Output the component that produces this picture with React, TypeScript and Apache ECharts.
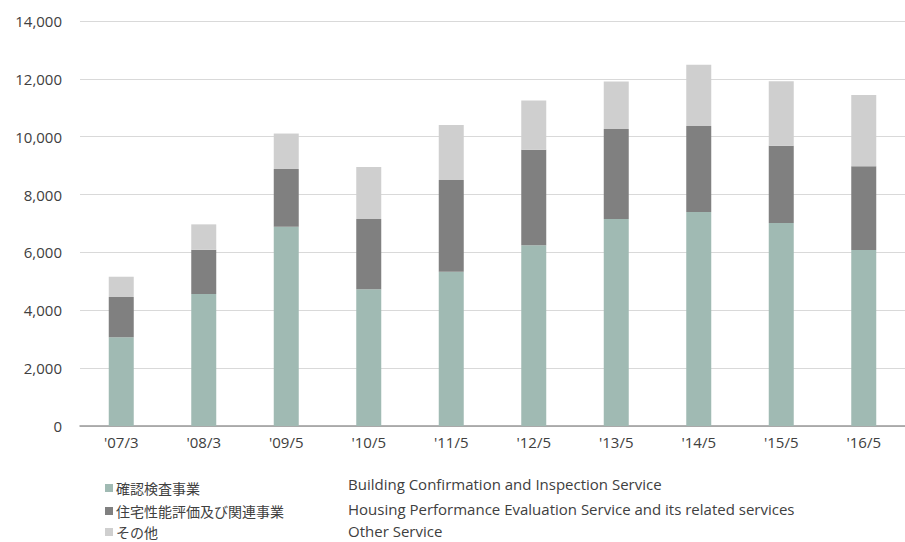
import React, { useEffect, useRef } from "react";
import * as echarts from "echarts";

const categories = ["'07/3", "'08/3", "'09/5", "'10/5", "'11/5", "'12/5", "'13/5", "'14/5", "'15/5", "'16/5"];
const building = [3070, 4560, 6890, 4725, 5335, 6245, 7155, 7395, 7015, 6085];
const housing = [1390, 1535, 1995, 2430, 3170, 3305, 3110, 2975, 2675, 2890];
const other = [700, 875, 1225, 1800, 1900, 1705, 1640, 2120, 2225, 2465];
const seriesNamesJa = ["確認検査事業", "住宅性能評価及び関連事業", "その他"];
const seriesNamesEn = [
  "Building Confirmation and Inspection Service",
  "Housing Performance Evaluation Service and its related services",
  "Other Service",
];
const colors = ["#a0bab3", "#808080", "#cfcfcf"];

export default function App() {
  const ref = useRef<HTMLDivElement>(null);
  useEffect(() => {
    document.body.style.margin = "0";
    if (!ref.current) return;
    const chart = echarts.init(ref.current, undefined, { renderer: "svg" });
    const font = "'Open Sans', 'Noto Sans CJK JP', sans-serif";
    const data = [building, housing, other];
    const jaY = [488, 511, 532];
    const enY = [484, 509, 531];
    const graphics: any[] = [];
    seriesNamesJa.forEach((n, i) => {
      graphics.push({
        type: "rect",
        shape: { x: 105, y: jaY[i] - 4, width: 8, height: 8 },
        style: { fill: colors[i] },
      });
      graphics.push({
        type: "text",
        style: {
          x: 116,
          y: jaY[i],
          text: n,
          fill: "#404040",
          verticalAlign: "middle",
          font: `14px 'Noto Sans CJK JP', sans-serif`,
        },
      });
      graphics.push({
        type: "text",
        style: {
          x: 348,
          y: enY[i],
          text: seriesNamesEn[i],
          fill: "#404040",
          verticalAlign: "middle",
          font: `15px ${font}`,
        },
      });
    });
    chart.setOption({
      animation: false,
      textStyle: { fontFamily: font },
      grid: { left: 80, right: -12, top: 21, bottom: 116 },
      xAxis: {
        type: "category",
        data: categories,
        axisLine: { lineStyle: { color: "#999999", width: 1.5 } },
        axisTick: { show: false },
        axisLabel: { color: "#404040", fontSize: 15, margin: 8, fontFamily: font },
      },
      yAxis: {
        type: "value",
        min: 0,
        max: 14000,
        interval: 2000,
        axisLine: { show: false },
        axisTick: { show: false },
        splitLine: { lineStyle: { color: "#d9d9d9", width: 1 } },
        axisLabel: {
          color: "#404040",
          fontSize: 15,
          margin: 18,
          fontFamily: font,
          formatter: (v: number) => v.toLocaleString("en-US"),
        },
      },
      series: data.map((d, i) => ({
        name: seriesNamesJa[i],
        type: "bar",
        stack: "total",
        data: d,
        barWidth: 25,
        itemStyle: { color: colors[i] },
      })),
      graphic: graphics,
    });
    return () => chart.dispose();
  }, []);
  return <div ref={ref} style={{ width: 905, height: 542 }} />;
}
